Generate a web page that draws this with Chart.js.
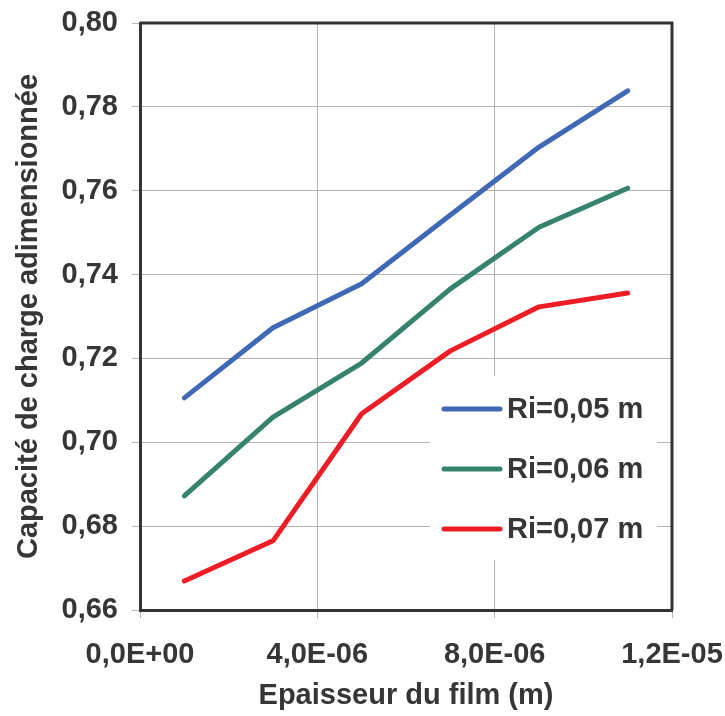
<!DOCTYPE html>
<html lang="fr">
<head>
    <meta charset="utf-8" />
    <title>Capacité de charge</title>
    <style>
        html, body { margin: 0; padding: 0; background: #fff; }
        .chart-box { width: 725px; height: 716px; }
    </style>
</head>
<body>
    <div class="chart-box">
        <canvas id="mychart"></canvas>
    </div>
    <script src="https://cdn.jsdelivr.net/npm/chart.js@4.4.1/dist/chart.umd.min.js"></script>
    <script>
        // épaisseur du film (m)
        const epaisseur = [1e-6, 3e-6, 5e-6, 7e-6, 9e-6, 1.1e-5];

        // capacité de charge adimensionnée pour chaque rayon
        const ri005 = [0.7106, 0.7273, 0.7378, 0.7542, 0.7704, 0.7838];
        const ri006 = [0.6872, 0.7060, 0.7189, 0.7366, 0.7513, 0.7606];
        const ri007 = [0.6669, 0.6765, 0.7068, 0.7218, 0.7323, 0.7356];

        const seriesNames = ['Ri=0,05 m', 'Ri=0,06 m', 'Ri=0,07 m'];
        const seriesColors = ['#3f69b6', '#35836f', '#ee1c25'];

        const textColor = '#363636';
        const gridColor = '#bdb1b0';
        const fontFamily = '"Liberation Sans", Arial, Helvetica, sans-serif';
        const fontSize = 29;

        function toPoints(values) {
            return epaisseur.map((x, i) => ({ x: x, y: values[i] }));
        }

        // cadre noir autour de la zone du graphe
        const framePlugin = {
            id: 'frame',
            afterDraw(chart) {
                const { ctx, chartArea: a } = chart;
                ctx.save();
                ctx.strokeStyle = '#333333';
                ctx.lineWidth = 3;
                ctx.beginPath();
                ctx.moveTo(a.left, a.top);
                ctx.lineTo(a.right, a.top);
                ctx.lineTo(a.right, a.bottom);
                ctx.stroke();
                ctx.restore();
            }
        };

        // légende à l'intérieur du graphe, sur fond blanc
        const legendPlugin = {
            id: 'innerLegend',
            beforeDatasetsDraw(chart) {
                const ctx = chart.ctx;
                ctx.save();
                ctx.fillStyle = '#ffffff';
                ctx.fillRect(430, 376, 227, 184);
                ctx.restore();
            },
            afterDatasetsDraw(chart) {
                const ctx = chart.ctx;
                ctx.save();
                ctx.font = 'bold ' + fontSize + 'px ' + fontFamily;
                ctx.textBaseline = 'middle';
                chart.data.datasets.forEach((ds, i) => {
                    const y = 409 + i * 60;
                    ctx.strokeStyle = ds.borderColor;
                    ctx.lineWidth = 5;
                    ctx.lineCap = 'round';
                    ctx.beginPath();
                    ctx.moveTo(444, y);
                    ctx.lineTo(500, y);
                    ctx.stroke();
                    ctx.fillStyle = textColor;
                    ctx.fillText(ds.label, 507, y + 1);
                });
                ctx.restore();
            }
        };

        new Chart(document.getElementById('mychart'), {
            type: 'line',
            data: {
                datasets: [ri005, ri006, ri007].map((vals, i) => ({
                    label: seriesNames[i],
                    data: toPoints(vals),
                    borderColor: seriesColors[i],
                    backgroundColor: seriesColors[i],
                    borderWidth: 5,
                    borderCapStyle: 'round',
                    borderJoinStyle: 'round',
                    pointRadius: 0,
                    tension: 0,
                    fill: false
                }))
            },
            options: {
                responsive: true,
                maintainAspectRatio: false,
                animation: false,
                layout: {
                    padding: { top: 23, right: 53, left: 0, bottom: 0 }
                },
                plugins: {
                    legend: { display: false },
                    tooltip: { enabled: false }
                },
                scales: {
                    x: {
                        type: 'linear',
                        min: 0,
                        max: 1.2e-5,
                        afterFit(scale) {
                            scale.height = 106;
                            scale.paddingLeft = 0;
                            scale.paddingRight = 0;
                        },
                        ticks: {
                            stepSize: 4e-6,
                            color: textColor,
                            padding: 20,
                            font: { family: fontFamily, size: fontSize, weight: 'bold' },
                            callback: (v) => v.toExponential(1).replace('.', ',').replace(/e([+-])(\d)$/, 'E$10$2').replace(/e/, 'E')
                        },
                        grid: {
                            color: gridColor,
                            lineWidth: 1,
                            tickLength: 8,
                            tickColor: gridColor
                        },
                        border: { color: '#333333', width: 3 },
                        title: {
                            display: true,
                            text: 'Epaisseur du film (m)',
                            color: textColor,
                            font: { family: fontFamily, size: fontSize, weight: 'bold' },
                            padding: { top: 0, bottom: 3 }
                        }
                    },
                    y: {
                        min: 0.66,
                        max: 0.80,
                        afterFit(scale) {
                            scale.width = 140;
                            scale.paddingTop = 0;
                            scale.paddingBottom = 0;
                        },
                        ticks: {
                            stepSize: 0.02,
                            color: textColor,
                            padding: 14,
                            font: { family: fontFamily, size: fontSize, weight: 'bold' },
                            callback: (v) => v.toFixed(2).replace('.', ',')
                        },
                        grid: {
                            color: gridColor,
                            lineWidth: 1,
                            tickLength: 8,
                            tickColor: gridColor
                        },
                        border: { color: '#333333', width: 3 },
                        title: {
                            display: true,
                            text: 'Capacité de charge adimensionnée',
                            color: textColor,
                            font: { family: fontFamily, size: fontSize, weight: 'bold' },
                            padding: { top: 12, bottom: 0 }
                        }
                    }
                }
            },
            plugins: [framePlugin, legendPlugin]
        });
    </script>
</body>
</html>
